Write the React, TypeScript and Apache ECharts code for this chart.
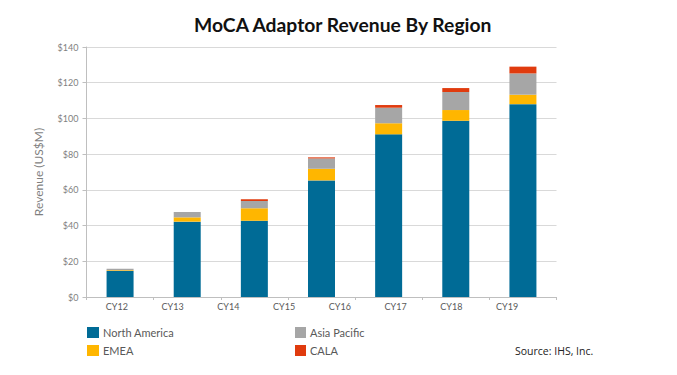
import React, { useEffect, useRef } from "react";
import * as echarts from "echarts";

const barSlots = ["CY12", "CY13", "CY14", "CY16", "CY17", "CY18", "CY19"];
const tickLabels = ["CY12", "CY13", "CY14", "CY15", "CY16", "CY17", "CY18", "CY19"];
const northAmerica = [14.5, 42.2, 42.7, 65.3, 91.1, 98.7, 108];
const emea = [0.5, 2.4, 7.0, 6.5, 6.2, 6.0, 5.3];
const asiaPacific = [0.8, 3.0, 4.1, 5.8, 8.7, 10.1, 11.9];
const cala = [0, 0, 0.9, 0.6, 1.5, 2.2, 3.8];

const seriesNames = ["North America", "EMEA", "Asia Pacific", "CALA"];
const seriesColors = ["#006b96", "#ffb600", "#a6a6a6", "#e03b0e"];

export default function App() {
  const ref = useRef<HTMLDivElement>(null);
  useEffect(() => {
    if (!ref.current) return;
    const chart = echarts.init(ref.current, null, { renderer: "svg" });
    const values = [northAmerica, emea, asiaPacific, cala];
    chart.setOption({
      animation: false,
      backgroundColor: "#ffffff",
      textStyle: { fontFamily: "Lato" },
      title: {
        text: "MoCA Adaptor Revenue By Region",
        left: 194,
        top: 15,
        padding: 0,
        textStyle: { fontFamily: "Lato", fontWeight: "bold", fontSize: 19.3, color: "#111111" },
      },
      grid: [
        { left: 86.5, width: 470, top: 47, height: 250 },
        { left: 89, width: 446, top: 47, height: 250 },
      ],
      xAxis: [
        {
          type: "category",
          gridIndex: 0,
          data: barSlots,
          axisLine: { lineStyle: { color: "#bfbfbf" } },
          axisTick: { show: true, length: 3, lineStyle: { color: "#bfbfbf" } },
          axisLabel: { show: false },
        },
        {
          type: "category",
          gridIndex: 1,
          data: tickLabels,
          axisLine: { show: false },
          axisTick: { show: false },
          axisLabel: { color: "#595959", fontSize: 9, margin: 5, fontFamily: "Lato" },
        },
      ],
      yAxis: [
        {
          type: "value",
          gridIndex: 0,
          min: 0,
          max: 140,
          interval: 20,
          name: "Revenue (US$M)",
          nameLocation: "middle",
          nameGap: 42,
          nameTextStyle: { color: "#7f7f7f", fontSize: 12, fontFamily: "Lato" },
          axisLine: { show: true, lineStyle: { color: "#bfbfbf" } },
          axisTick: { show: true, length: 4, lineStyle: { color: "#bfbfbf" } },
          axisLabel: { formatter: "${value}", color: "#7f7f7f", fontSize: 9, margin: 8, fontFamily: "Lato" },
          splitLine: { lineStyle: { color: "#d9d9d9" } },
        },
        {
          type: "value",
          gridIndex: 1,
          min: 0,
          max: 140,
          show: false,
          splitLine: { show: false },
        },
      ],
      legend: [
        {
          orient: "vertical",
          left: 87,
          top: 327,
          padding: 0,
          itemWidth: 12,
          itemHeight: 11,
          itemGap: 7,
          icon: "rect",
          data: [seriesNames[0], seriesNames[1]],
          textStyle: { color: "#595959", fontSize: 11, fontFamily: "Lato", padding: [0, 0, 0, -1] },
        },
        {
          orient: "vertical",
          left: 295,
          top: 327,
          padding: 0,
          itemWidth: 11,
          itemHeight: 11,
          itemGap: 7,
          icon: "rect",
          data: [seriesNames[2], seriesNames[3]],
          textStyle: { color: "#595959", fontSize: 11, fontFamily: "Lato", padding: [0, 0, 0, -1] },
        },
      ],
      graphic: [
        {
          type: "text",
          left: 515,
          top: 345,
          style: { text: "Source: IHS, Inc.", fill: "#222222", font: "10.5px 'Open Sans'" },
        },
      ],
      series: seriesNames.map((name, i) => ({
        name,
        type: "bar",
        stack: "total",
        xAxisIndex: 0,
        yAxisIndex: 0,
        barWidth: 27,
        itemStyle: { color: seriesColors[i] },
        data: values[i],
      })),
    });
    return () => chart.dispose();
  }, []);
  return <div ref={ref} style={{ position: "absolute", left: 0, top: 0, width: 677, height: 375 }} />;
}
